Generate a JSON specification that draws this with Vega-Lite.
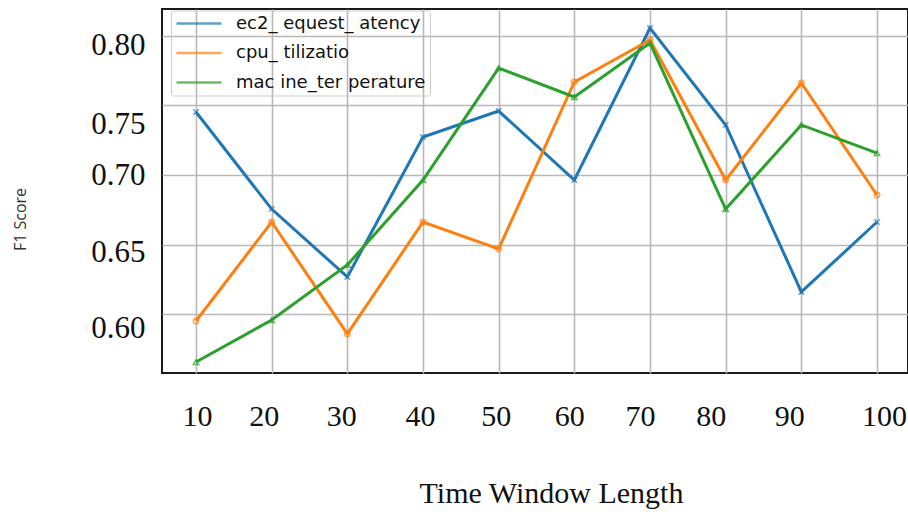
{
  "$schema": "https://vega.github.io/schema/vega-lite/v6.json",
  "autosize": {"type": "none"},
  "padding": {"left": 162, "top": 9, "right": 0, "bottom": 139},
  "width": 746,
  "height": 364,
  "background": "white",
  "config": {
    "view": {"stroke": "#1a1a1a", "strokeWidth": 2},
    "axis": {"gridColor": "#b8b8b8", "gridWidth": 1.6, "gridOpacity": 1, "domain": false, "ticks": false}
  },
  "data": {
    "values": [
      {"series": "ec2_ equest_ atency", "x": 10, "f1": 0.7453},
      {"series": "ec2_ equest_ atency", "x": 20, "f1": 0.6755},
      {"series": "ec2_ equest_ atency", "x": 30, "f1": 0.6267},
      {"series": "ec2_ equest_ atency", "x": 40, "f1": 0.7273},
      {"series": "ec2_ equest_ atency", "x": 50, "f1": 0.7460},
      {"series": "ec2_ equest_ atency", "x": 60, "f1": 0.6964},
      {"series": "ec2_ equest_ atency", "x": 70, "f1": 0.8057},
      {"series": "ec2_ equest_ atency", "x": 80, "f1": 0.7360},
      {"series": "ec2_ equest_ atency", "x": 90, "f1": 0.6159},
      {"series": "ec2_ equest_ atency", "x": 100, "f1": 0.6662},
      {"series": "cpu_ tilizatio", "x": 10, "f1": 0.5950},
      {"series": "cpu_ tilizatio", "x": 20, "f1": 0.6662},
      {"series": "cpu_ tilizatio", "x": 30, "f1": 0.5857},
      {"series": "cpu_ tilizatio", "x": 40, "f1": 0.6662},
      {"series": "cpu_ tilizatio", "x": 50, "f1": 0.6468},
      {"series": "cpu_ tilizatio", "x": 60, "f1": 0.7669},
      {"series": "cpu_ tilizatio", "x": 70, "f1": 0.7971},
      {"series": "cpu_ tilizatio", "x": 80, "f1": 0.6964},
      {"series": "cpu_ tilizatio", "x": 90, "f1": 0.7662},
      {"series": "cpu_ tilizatio", "x": 100, "f1": 0.6856},
      {"series": "mac ine_ter perature", "x": 10, "f1": 0.5655},
      {"series": "mac ine_ter perature", "x": 20, "f1": 0.5957},
      {"series": "mac ine_ter perature", "x": 30, "f1": 0.6353},
      {"series": "mac ine_ter perature", "x": 40, "f1": 0.6964},
      {"series": "mac ine_ter perature", "x": 50, "f1": 0.7769},
      {"series": "mac ine_ter perature", "x": 60, "f1": 0.7561},
      {"series": "mac ine_ter perature", "x": 70, "f1": 0.7949},
      {"series": "mac ine_ter perature", "x": 80, "f1": 0.6755},
      {"series": "mac ine_ter perature", "x": 90, "f1": 0.7360},
      {"series": "mac ine_ter perature", "x": 100, "f1": 0.7158}
    ]
  },
  "encoding": {
    "x": {
      "field": "x", "type": "quantitative",
      "scale": {"domain": [5.507, 104.097], "nice": false, "zero": false},
      "axis": {
        "values": [10, 20, 30, 40, 50, 60, 70, 80, 90, 100],
        "title": "Time Window Length",
        "titleFont": "Liberation Serif", "titleFontSize": 30, "titleFontWeight": "normal", "titleColor": "#111",
        "titleBaseline": "alphabetic", "titleY": 129, "titleX": 389, "titleAlign": "center", "titleAnchor": "start",
        "labelFont": "Liberation Serif", "labelFontSize": 30, "labelColor": "#111",
        "labelPadding": 28, "labelFlush": false,
        "labelOffset": {"expr": "datum.value==10?1:datum.value==20?-8:datum.value==30?-6:datum.value==40?-3:datum.value==50?-3:datum.value==60?-5:datum.value==70?-10:datum.value==80?-15:datum.value==90?-12:7"}
      }
    },
    "y": {
      "field": "f1", "type": "quantitative",
      "scale": {"domain": [0.5576, 0.8194], "nice": false, "zero": false},
      "axis": {
        "values": [0.6, 0.65, 0.7, 0.75, 0.8],
        "format": ".2f",
        "title": "F1 Score",
        "titleFont": "Open Sans", "titleFontSize": 16, "titleFontWeight": "normal", "titleColor": "#333",
        "titleAngle": -90, "titleX": -142, "titleY": 210, "titleBaseline": "middle", "titleAlign": "center", "titleAnchor": "start",
        "labelFont": "Liberation Serif", "labelFontSize": 31, "labelColor": "#111",
        "labelPadding": 17, "labelFlush": false,
        "labelOffset": {"expr": "datum.value>0.79?10:datum.value>0.74?19:datum.value>0.69?0:datum.value>0.64?8:14"}
      }
    },
    "color": {
      "field": "series", "type": "nominal",
      "scale": {"domain": ["ec2_ equest_ atency", "cpu_ tilizatio", "mac ine_ter perature"], "range": ["#1f77b4", "#ff7f0e", "#2ca02c"]},
      "legend": {
        "title": null, "orient": "none", "legendX": 9, "legendY": 1.5,
        "symbolType": "stroke", "symbolSize": 2025, "symbolStrokeWidth": 2.5,
        "clipHeight": 18, "rowPadding": 11.5, "padding": 4,
        "labelFont": "DejaVu Sans", "labelFontSize": 18, "labelColor": "#111", "labelOffset": 13, "labelLimit": 400,
        "strokeColor": "#cccccc", "fillColor": null, "cornerRadius": 2
      }
    }
  },
  "layer": [
    {
      "mark": {"type": "line", "strokeWidth": 3},
      "encoding": {}
    },
    {
      "transform": [{"filter": "datum.series == 'ec2_ equest_ atency'"}],
      "mark": {"type": "point", "shape": "M-1,-1L1,1M-1,1L1,-1", "filled": false, "size": 30, "strokeWidth": 1.5, "opacity": 0.7}
    },
    {
      "transform": [{"filter": "datum.series == 'cpu_ tilizatio'"}],
      "mark": {"type": "point", "shape": "circle", "filled": false, "size": 30, "strokeWidth": 1.5, "opacity": 0.7}
    },
    {
      "transform": [{"filter": "datum.series == 'mac ine_ter perature'"}],
      "mark": {"type": "point", "shape": "triangle-up", "filled": false, "size": 30, "strokeWidth": 1.5, "opacity": 0.7}
    }
  ]
}
